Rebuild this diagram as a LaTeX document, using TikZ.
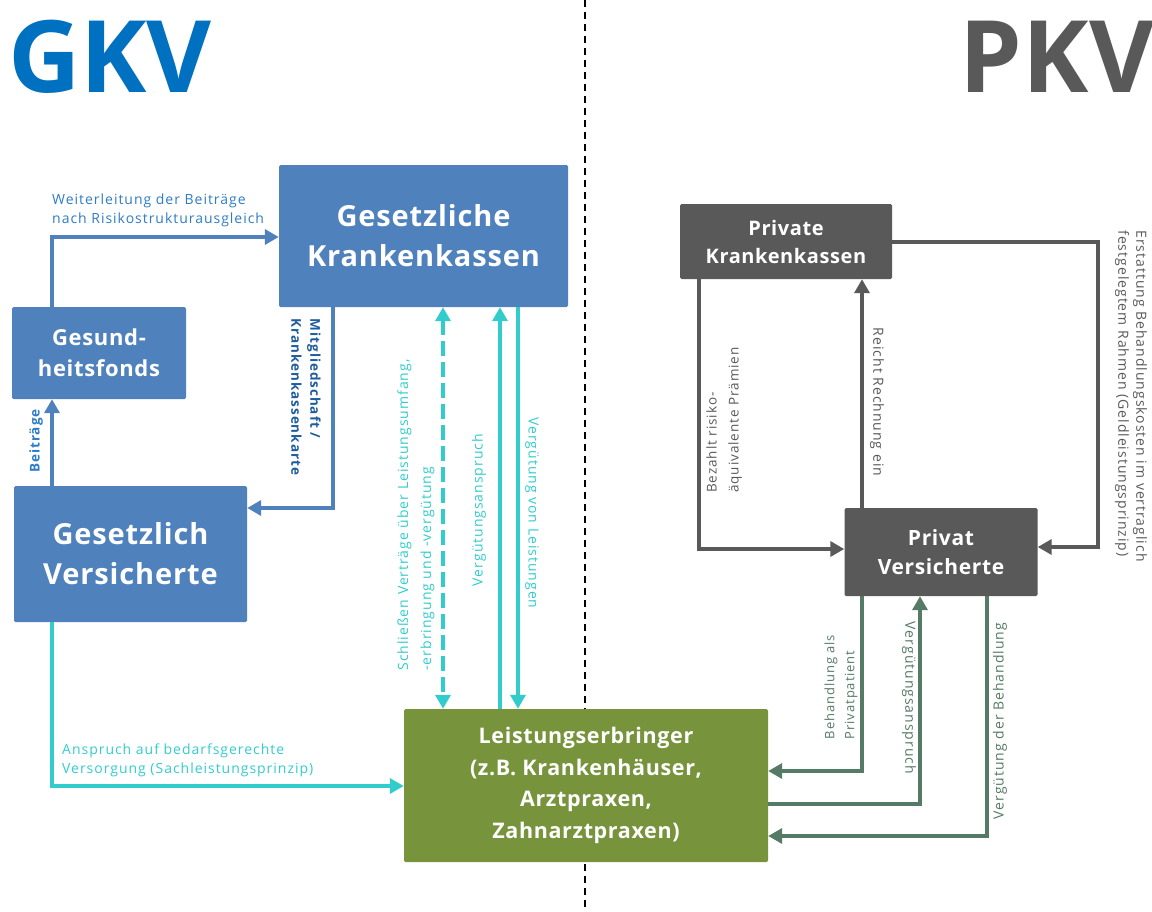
\documentclass[tikz,border=0pt]{standalone}
\usepackage{fontspec}
\setmainfont{Open Sans}
\newfontfamily\lblfont[LetterSpace=7]{Open Sans}
\newfontfamily\boxfont[LetterSpace=3]{Open Sans}
\usetikzlibrary{arrows.meta,calc}
\definecolor{boxblue}{HTML}{4F81BD}
\definecolor{titleblue}{HTML}{0070C0}
\definecolor{lblblue}{HTML}{2E7CC4}
\definecolor{darkblue}{HTML}{1F5C9E}
\definecolor{cyanc}{HTML}{33CCCC}
\definecolor{grayb}{HTML}{595959}
\definecolor{greenb}{HTML}{77933C}
\definecolor{greengray}{HTML}{557A65}
\tikzset{
  boxnode/.style={rectangle, rounded corners=1.5pt, text=white, align=center, inner sep=0pt},
  lbl/.style={font=\lblfont\fontsize{14}{19}\selectfont, inner sep=0pt},
  tipA/.style={-{Triangle[length=14pt,width=15pt]}},
  blueline/.style={draw=boxblue, line width=4pt, tipA},
  cyanline/.style={draw=cyanc, line width=4pt, tipA},
  grayline/.style={draw=grayb, line width=4pt, tipA},
  greenline/.style={draw=greengray, line width=4pt, tipA},
}
\begin{document}
\begin{tikzpicture}[x=1pt,y=-1pt]
\useasboundingbox (0,0) rectangle (1152,911);

% divider
\coordinate (dtop) at (585,0);
\coordinate (dbot) at (585,911);
\draw[black, line width=2.5pt, dash pattern=on 7pt off 5pt] (dtop) -- (dbot);

% titles
\node[text=titleblue, font=\bfseries\fontsize{100}{100}\selectfont, inner sep=0pt] (gkv) at (110,57) {GKV};
\node[text=grayb, font=\bfseries\fontsize{100}{100}\selectfont, inner sep=0pt] (pkv) at (1057,57) {PKV};

% boxes
\node[boxnode, fill=boxblue, minimum width=289pt, minimum height=142pt, font=\boxfont\bfseries\fontsize{29}{40}\selectfont] (gkk) at (423.5,236) {Gesetzliche\\Krankenkassen};
\node[boxnode, fill=boxblue, minimum width=174pt, minimum height=92pt, font=\boxfont\bfseries\fontsize{22}{31}\selectfont] (gf) at (99,353) {Gesund-\\heitsfonds};
\node[boxnode, fill=boxblue, minimum width=233pt, minimum height=136pt, font=\boxfont\bfseries\fontsize{29}{40}\selectfont] (gv) at (130.5,554) {Gesetzlich\\Versicherte};
\node[boxnode, fill=greenb, minimum width=364pt, minimum height=153pt, font=\boxfont\bfseries\fontsize{21.5}{31.5}\selectfont] (le) at (586,785.5) {Leistungserbringer\\(z.B. Krankenhäuser,\\Arztpraxen,\\Zahnarztpraxen)};
\node[boxnode, fill=grayb, minimum width=212pt, minimum height=75pt, font=\boxfont\bfseries\fontsize{20}{28}\selectfont] (pkk) at (786,241.5) {Private\\Krankenkassen};
\node[boxnode, fill=grayb, minimum width=193pt, minimum height=88pt, font=\boxfont\bfseries\fontsize{21}{29}\selectfont] (pv) at (941,552) {Privat\\Versicherte};

% lane coordinates
\coordinate (xA) at (52,0);
\coordinate (yA) at (0,237);
\coordinate (xM) at (333,0);
\coordinate (yM) at (0,508);
\coordinate (xD) at (443,0);
\coordinate (xU) at (500,0);
\coordinate (xV) at (518,0);
\coordinate (yS) at (0,786);
\coordinate (xP) at (699,0);
\coordinate (yP) at (0,549);
\coordinate (xR) at (862,0);
\coordinate (yE) at (0,242);
\coordinate (xE) at (1098,0);
\coordinate (yE2) at (0,547);
\coordinate (yG1) at (0,771);
\coordinate (yG2) at (0,804);
\coordinate (xG2) at (920,0);
\coordinate (xG3) at (987,0);
\coordinate (yG3) at (0,836);
\coordinate (eE) at ($(xE)+(yE)$);
\coordinate (eG2) at ($(xG2)+(yG2)$);

% GKV arrows
\draw[blueline] (gf.north -| xA) |- (gkk.west |- yA);
\draw[blueline] (gv.north -| xA) -- (gf.south -| xA);
\draw[blueline] (gkk.south -| xM) |- (gv.east |- yM);
\draw[cyanline, {Triangle[length=14pt,width=15pt]}-{Triangle[length=14pt,width=15pt]}, dash pattern=on 15pt off 6pt] (gkk.south -| xD) -- (le.north -| xD);
\draw[cyanline] (le.north -| xU) -- (gkk.south -| xU);
\draw[cyanline] (gkk.south -| xV) -- (le.north -| xV);
\draw[cyanline] (gv.south -| xA) |- (le.west |- yS);

% PKV arrows
\draw[grayline] (pkk.south -| xP) |- (pv.west |- yP);
\draw[grayline] (pv.north -| xR) -- (pkk.south -| xR);
\draw[grayline] (pkk.east |- yE) -- (eE) |- (pv.east |- yE2);
\draw[greenline] (pv.south -| xR) |- (le.east |- yG1);
\draw[greenline] (le.east |- yG2) -- (eG2) -- (pv.south -| xG2);
\draw[greenline] (pv.south -| xG3) |- (le.east |- yG3);

% labels GKV
\node[lbl, text=lblblue, align=left, anchor=west] (lw) at (52,210) {Weiterleitung der Beiträge\\nach Risikostrukturausgleich};
\node[lbl, text=lblblue, font=\lblfont\bfseries\fontsize{13.5}{19}\selectfont, rotate=90] (lb) at (36,441) {Beiträge};
\node[lbl, text=darkblue, font=\lblfont\bfseries\fontsize{13.5}{19}\selectfont, rotate=-90, align=left] (lm) at (306,397) {Mitgliedschaft /\\Krankenkassenkarte};
\node[lbl, text=cyanc, rotate=90, align=left, font=\lblfont\fontsize{14}{23}\selectfont] (ls) at (416,515) {Schließen Verträge über Leistungsumfang,\\-erbringung und -vergütung};
\node[lbl, text=cyanc, rotate=90] (lva) at (479,510) {Vergütungsanspruch};
\node[lbl, text=cyanc, rotate=-90] (lvl) at (532,513) {Vergütung von Leistungen};
\node[lbl, text=cyanc, align=left, anchor=west] (la) at (62,760) {Anspruch auf bedarfsgerechte\\Versorgung (Sachleistungsprinzip)};

% labels PKV
\node[lbl, text=grayb, rotate=90, align=left, font=\lblfont\fontsize{13.5}{22}\selectfont] (lbz) at (724,420) {Bezahlt risiko-\\äquivalente Prämien};
\node[lbl, text=grayb, rotate=-90] (lr) at (877,402) {Reicht Rechnung ein};
\node[lbl, text=grayb, rotate=-90, align=left, font=\lblfont\fontsize{14}{18}\selectfont] (ler) at (1131,396) {Erstattung Behandlungskosten im vertraglich\\festgelegtem Rahmen (Geldleistungsprinzip)};
\node[lbl, text=greengray, rotate=90, align=left, font=\lblfont\fontsize{13}{20}\selectfont] (lbh) at (841,687) {Behandlung als\\Privatpatient};
\node[lbl, text=greengray, rotate=-90] (lvg) at (909,698) {Vergütungsanspruch};
\node[lbl, text=greengray, rotate=90] (lvb) at (1000,721) {Vergütung der Behandlung};
\end{tikzpicture}
\end{document}
